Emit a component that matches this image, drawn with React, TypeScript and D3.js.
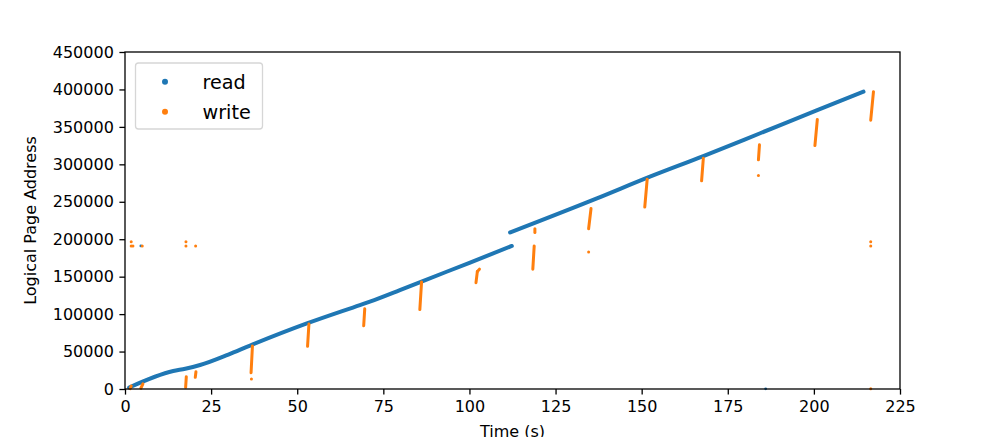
import React, { useEffect, useRef } from "react";
import * as d3 from "d3";

// read trace, two runs (gap around t=112)
const readRunA: [number, number][] = [
  [1.2, 2000], [14.0, 24000], [17.5, 27000], [21.8, 32000], [30.0, 46000],
  [36.3, 58000], [52.8, 87500], [68.2, 112000], [71.1, 116600], [79.8, 132000],
  [86.1, 143500], [100.0, 168500], [112.3, 191000],
];
const readRunB: [number, number][] = [
  [111.8, 209000], [137.0, 254500], [152.4, 283500], [167.9, 311000],
  [184.4, 341500], [200.8, 372000], [214.4, 397000],
];
const readDots: [number, number][] = [[4.6, 191000], [186.0, 300]];

// write bursts: [t1, y1, t2, y2]
const writeStrips: [number, number, number, number][] = [
  [1.5, 500, 1.8, 4000],
  [4.6, 1000, 5.2, 7000],
  [17.6, 2300, 17.8, 16400],
  [20.4, 15600, 20.6, 23000],
  [36.6, 21700, 37.0, 57400],
  [53.0, 57000, 53.4, 86800],
  [69.3, 84500, 69.6, 107000],
  [85.6, 106000, 86.1, 143000],
  [101.9, 142000, 102.3, 157000],
  [102.3, 157000, 102.9, 160000],
  [118.4, 160000, 118.8, 191000],
  [119.0, 209000, 119.0, 214000],
  [134.6, 214000, 135.3, 241000],
  [150.9, 243000, 151.6, 280000],
  [167.4, 278000, 167.9, 308000],
  [183.9, 306000, 184.2, 326000],
  [200.3, 325000, 201.0, 360000],
  [216.5, 359000, 217.3, 397000],
];
const writeDots: [number, number][] = [
  [36.7, 13400], [134.6, 183000], [183.9, 285000],
  [1.8, 196700], [1.8, 191000], [2.3, 191000], [5.0, 191000],
  [17.7, 196700], [17.7, 191000], [20.5, 191000],
  [216.5, 196700], [216.5, 191000], [216.5, 300],
];

const xTicks = [0, 25, 50, 75, 100, 125, 150, 175, 200, 225];
const yTicks = [0, 50000, 100000, 150000, 200000, 250000, 300000, 350000, 400000, 450000];
const legendItems = ["read", "write"];

const width = 1000;
const height = 437;
const blue = "#1f77b4";
const orange = "#ff7f0e";

const App = () => {
  const svgRef = useRef<SVGSVGElement>(null);

  useEffect(() => {
    const svg = d3.select(svgRef.current);
    svg.selectAll("*").remove();

    const left = 125, right = 900, top = 52, bottom = 389;
    const x = d3.scaleLinear().domain([0, 225]).range([left, right]);
    const y = d3.scaleLinear().domain([0, 450000]).range([bottom, top]);
    const font = "DejaVu Sans, sans-serif";

    const plot = svg.append("g");

    // read trace
    const line = d3.line<[number, number]>()
      .x(d => x(d[0])).y(d => y(d[1]))
      .curve(d3.curveMonotoneX);
    [readRunA, readRunB].forEach(run => {
      plot.append("path")
        .attr("d", line(run))
        .attr("fill", "none")
        .attr("stroke", blue)
        .attr("stroke-width", 4)
        .attr("stroke-linecap", "round")
        .attr("stroke-linejoin", "round");
    });
    plot.selectAll(".rdot").data(readDots).join("circle")
      .attr("cx", d => x(d[0])).attr("cy", d => y(d[1]))
      .attr("r", 1.4).attr("fill", blue);

    // write bursts
    plot.selectAll(".wstrip").data(writeStrips).join("line")
      .attr("x1", d => x(d[0])).attr("y1", d => y(d[1]))
      .attr("x2", d => x(d[2])).attr("y2", d => y(d[3]))
      .attr("stroke", orange)
      .attr("stroke-width", 3)
      .attr("stroke-linecap", "round");
    plot.selectAll(".wdot").data(writeDots).join("circle")
      .attr("cx", d => x(d[0])).attr("cy", d => y(d[1]))
      .attr("r", 1.5).attr("fill", orange);

    // axes
    const xAxis = svg.append("g")
      .attr("transform", `translate(0,${bottom})`)
      .call(d3.axisBottom(x).tickValues(xTicks).tickSize(5.6).tickPadding(5.6).tickFormat(d3.format("d")));
    const yAxis = svg.append("g")
      .attr("transform", `translate(${left},0)`)
      .call(d3.axisLeft(y).tickValues(yTicks).tickSize(5.6).tickPadding(5.6).tickFormat(d3.format("d")));
    [xAxis, yAxis].forEach(g => {
      g.select(".domain").remove();
      g.selectAll(".tick line").attr("stroke", "#000").attr("stroke-width", 1.3);
      g.selectAll(".tick text").attr("fill", "#000").style("font", `16px ${font}`);
    });

    // frame
    svg.append("rect")
      .attr("x", left).attr("y", top)
      .attr("width", right - left).attr("height", bottom - top)
      .attr("fill", "none").attr("stroke", "#000").attr("stroke-width", 1.3);

    // labels (x label is clipped by the bottom edge, as in the original)
    svg.append("text")
      .attr("x", (left + right) / 2).attr("y", 437)
      .attr("text-anchor", "middle")
      .style("font", `16px ${font}`)
      .text("Time (s)");
    svg.append("text")
      .attr("transform", `translate(36,${(top + bottom) / 2}) rotate(-90)`)
      .attr("text-anchor", "middle")
      .style("font", `16px ${font}`)
      .text("Logical Page Address");

    // legend
    const lg = svg.append("g");
    lg.append("rect")
      .attr("x", 135.5).attr("y", 63).attr("width", 127).attr("height", 66)
      .attr("rx", 3).attr("fill", "#fff").attr("fill-opacity", 0.8)
      .attr("stroke", "#d6d6d6").attr("stroke-width", 1.3);
    const colors = d3.scaleOrdinal<string>().domain(legendItems).range([blue, orange]);
    legendItems.forEach((name, i) => {
      const cy = 81.7 + i * 30;
      lg.append("circle").attr("cx", 165).attr("cy", cy).attr("r", 3).attr("fill", colors(name));
      lg.append("text")
        .attr("x", 202.5).attr("y", cy).attr("dy", "0.36em")
        .style("font", `19.2px ${font}`)
        .text(name);
    });
  }, []);

  return (
    <svg
      ref={svgRef}
      width={width}
      height={height}
      viewBox={`0 0 ${width} ${height}`}
      style={{ position: "absolute", left: 0, top: 0, background: "#fff" }}
    />
  );
};

export default App;
